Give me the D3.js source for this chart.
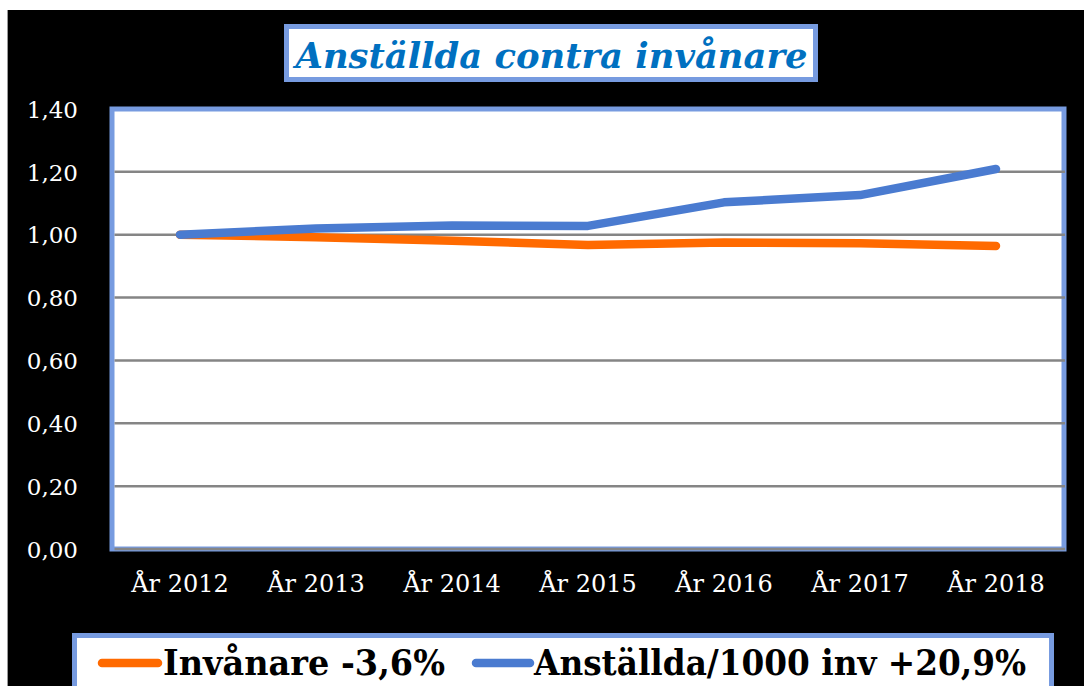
<!DOCTYPE html>
<html>
<head>
<meta charset="utf-8">
<script src="https://cdn.jsdelivr.net/npm/d3@7"></script>
<style>
html,body{margin:0;padding:0;background:#fff;}
svg{display:block;}
</style>
</head>
<body>
<svg id="chart" width="1084" height="686"></svg>
<script>
const categories = ["År 2012","År 2013","År 2014","År 2015","År 2016","År 2017","År 2018"];
const invanare   = [1.000, 0.992, 0.981, 0.967, 0.975, 0.973, 0.964];
const anstallda  = [1.000, 1.020, 1.029, 1.028, 1.103, 1.126, 1.209];
const yTicks     = [0, 0.2, 0.4, 0.6, 0.8, 1.0, 1.2, 1.4];
const title      = "Anställda contra invånare";
const seriesNames = ["Invånare -3,6%", "Anställda/1000 inv +20,9%"];

const W = 1084, H = 686;
const svg = d3.select("#chart");
const serif = "'DejaVu Serif', 'Liberation Serif', serif";
const BORDER = "#779be0";
const BLUE = "#4a7bd0", ORANGE = "#ff6a00", GRID = "#858585";

// background
svg.append("rect").attr("x",0).attr("y",0).attr("width",W).attr("height",H).attr("fill","#fff");
svg.append("rect").attr("x",7).attr("y",10).attr("width",W-7).attr("height",H-10).attr("fill","#000");
svg.append("line").attr("x1",7.5).attr("x2",7.5).attr("y1",10).attr("y2",H).attr("stroke","#9a9a9a").attr("stroke-width",1);

// plot area
const plot = {left:112, right:1064, top:109, bottom:549};
const x = d3.scaleBand().domain(categories).range([plot.left, plot.right]);
const y = d3.scaleLinear().domain([0,1.4]).range([plot.bottom, plot.top]);

svg.append("rect").attr("x",plot.left).attr("y",plot.top)
  .attr("width",plot.right-plot.left).attr("height",plot.bottom-plot.top)
  .attr("fill","#fff").attr("stroke",BORDER).attr("stroke-width",5);

// gridlines
svg.append("g").selectAll("line").data(yTicks.filter(t=>t<1.4)).join("line")
  .attr("x1",plot.left+2.5).attr("x2",plot.right+1)
  .attr("y1",d=>y(d)).attr("y2",d=>y(d))
  .attr("stroke",GRID).attr("stroke-width",2.5);

// y axis labels
const yAxis = d3.axisLeft(y).tickValues(yTicks).tickSize(0).tickPadding(0)
  .tickFormat(d=>d3.format(".2f")(d).replace(".",","));
const gy = svg.append("g").attr("transform",`translate(${78},0)`).call(yAxis);
gy.select(".domain").remove();
gy.selectAll("text").attr("fill","#fff").attr("font-family",serif).attr("font-size",23).attr("dy","0.36em");

// x axis labels
const xAxis = d3.axisBottom(x).tickSize(0).tickPadding(0);
const gx = svg.append("g").attr("transform",`translate(0,${592})`).call(xAxis);
gx.select(".domain").remove();
gx.selectAll("text").attr("fill","#fff").attr("font-family",serif).attr("font-size",24).attr("dy",0);

// lines
const line = d3.line().x((d,i)=>x(categories[i])+x.bandwidth()/2).y(d=>y(d));
[[invanare,ORANGE],[anstallda,BLUE]].forEach(([data,col])=>{
  svg.append("path").datum(data).attr("d",line).attr("fill","none")
    .attr("stroke",col).attr("stroke-width",8.5)
    .attr("stroke-linecap","round").attr("stroke-linejoin","round");
});

// title
svg.append("rect").attr("x",286.5).attr("y",26.5).attr("width",529).attr("height",53)
  .attr("fill","#fff").attr("stroke",BORDER).attr("stroke-width",5);
svg.append("text").attr("x",295.5).attr("y",68).text(title)
  .attr("font-family",serif).attr("font-size",36).attr("font-weight","bold").attr("font-style","italic")
  .attr("fill","#0070c0").attr("textLength",512).attr("lengthAdjust","spacingAndGlyphs");

// legend
svg.append("rect").attr("x",74.5).attr("y",635.5).attr("width",977).attr("height",70)
  .attr("fill","#fff").attr("stroke",BORDER).attr("stroke-width",5);
const legendItems = [
  {name:seriesNames[0], color:ORANGE, x1:102, x2:158, tx:163, tl:282},
  {name:seriesNames[1], color:BLUE, x1:476, x2:530, tx:534, tl:492}
];
legendItems.forEach(it=>{
  svg.append("line").attr("x1",it.x1).attr("x2",it.x2).attr("y1",663).attr("y2",663)
    .attr("stroke",it.color).attr("stroke-width",8.5).attr("stroke-linecap","round");
  svg.append("text").attr("x",it.tx).attr("y",675).text(it.name)
    .attr("font-family",serif).attr("font-size",36).attr("font-weight","bold").attr("fill","#000")
    .attr("textLength",it.tl).attr("lengthAdjust","spacingAndGlyphs");
});
</script>
</body>
</html>
